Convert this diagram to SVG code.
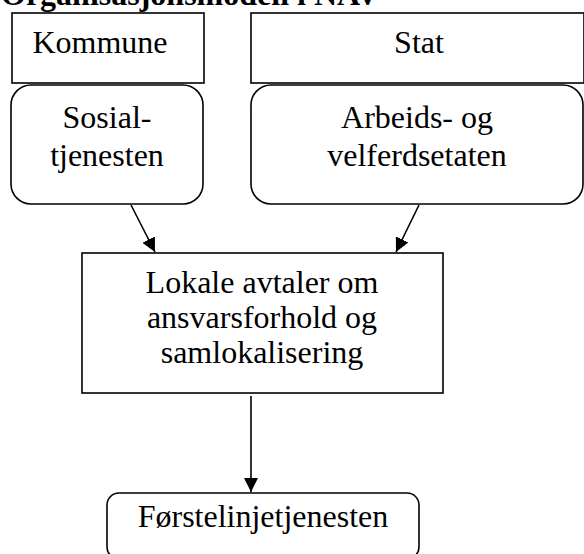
<svg xmlns="http://www.w3.org/2000/svg" width="584" height="554" viewBox="0 0 584 554">
<style>
text{font-family:"Liberation Serif","Times New Roman",serif;font-size:32px;fill:#000;text-anchor:middle}
.title{font-weight:bold;text-anchor:start}
.box{fill:#fff;stroke:#000;stroke-width:1.6}
.conn{stroke:#000;stroke-width:1.6;fill:none}
</style>
<defs>
<marker id="ah" viewBox="0 0 14 14" refX="14" refY="7" markerWidth="14" markerHeight="14" markerUnits="userSpaceOnUse" orient="auto">
<path d="M0,0 L14,7 L0,14 z" fill="#000"/>
</marker>
</defs>
<rect width="584" height="554" fill="#fff"/>
<text class="title" x="1" y="5">Organisasjonsmodell i NAV</text>
<g id="kommune">
<rect class="box" x="12" y="13" width="192" height="70"/>
<text x="100" y="53">Kommune</text>
</g>
<g id="stat">
<rect class="box" x="251" y="13" width="333" height="70"/>
<text x="419" y="53">Stat</text>
</g>
<g id="sosial">
<rect class="box" x="11" y="85" width="192" height="119" rx="20" ry="20"/>
<text x="107" y="128">Sosial-</text>
<text x="107" y="166">tjenesten</text>
</g>
<g id="arbeid">
<rect class="box" x="251" y="85" width="332" height="119" rx="20" ry="20"/>
<text x="417" y="128">Arbeids- og</text>
<text x="417" y="166">velferdsetaten</text>
</g>
<g id="lokale">
<rect class="box" x="82" y="253" width="361" height="140"/>
<text x="262" y="293">Lokale avtaler om</text>
<text x="262" y="328">ansvarsforhold og</text>
<text x="262" y="363">samlokalisering</text>
</g>
<g id="forste">
<rect class="box" x="107" y="493" width="312" height="66" rx="12" ry="12"/>
<text x="263" y="527">Førstelinjetjenesten</text>
</g>
<g id="connectors">
<line class="conn" x1="131" y1="205" x2="155" y2="252" marker-end="url(#ah)"/>
<line class="conn" x1="419" y1="205" x2="396" y2="252" marker-end="url(#ah)"/>
<line class="conn" x1="251" y1="396" x2="251" y2="492" marker-end="url(#ah)"/>
</g>
</svg>
